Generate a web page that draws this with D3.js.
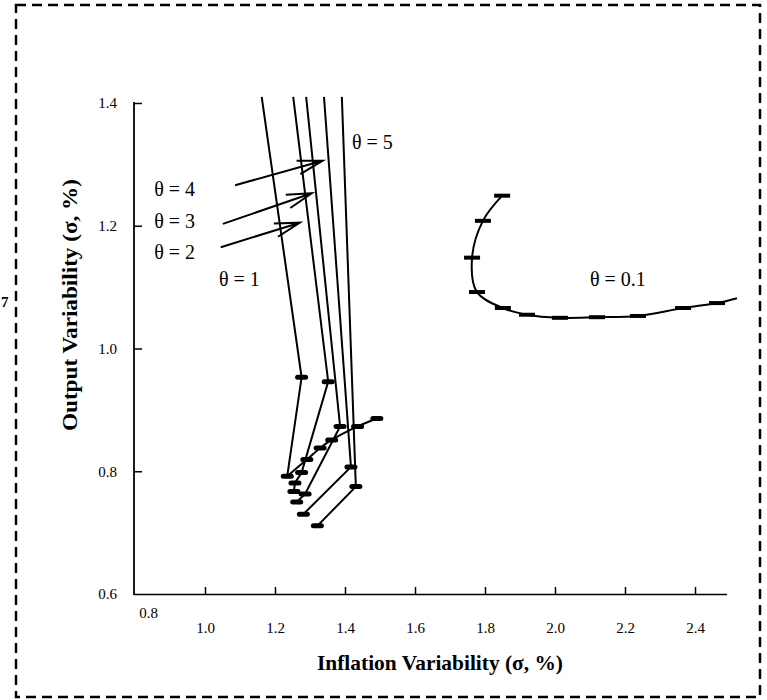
<!DOCTYPE html>
<html>
<head>
<meta charset="utf-8">
<script src="https://cdn.jsdelivr.net/npm/d3@7"></script>
<style>
  body { margin: 0; background: #fff; }
  svg text { font-family: "Liberation Serif", "DejaVu Serif", serif; fill: #000; }
</style>
</head>
<body>
<script>
// tick values
const xTicks = [0.8, 1.0, 1.2, 1.4, 1.6, 1.8, 2.0, 2.2, 2.4];
const yTicks = [0.6, 0.8, 1.0, 1.2, 1.4];

// theta = 0.1 frontier (marked points, last point is the open end)
const theta01 = [
  [1.849, 1.249], [1.794, 1.208], [1.763, 1.148], [1.777, 1.092], [1.851, 1.066],
  [1.920, 1.055], [2.014, 1.050], [2.120, 1.051], [2.237, 1.053], [2.366, 1.066],
  [2.463, 1.074], [2.520, 1.082]
];
const theta01Marked = 11;

// theta = 1..5 lines, first point is off the top
const theta1 = [[1.162, 1.41], [1.276, 0.953], [1.235, 0.792]];
const theta2 = [[1.252, 1.41], [1.352, 0.946], [1.276, 0.798], [1.257, 0.781], [1.254, 0.767]];
const theta3 = [[1.289, 1.41], [1.386, 0.873], [1.286, 0.763], [1.262, 0.750]];
const theta4 = [[1.340, 1.41], [1.417, 0.807], [1.281, 0.730]];
const theta5 = [[1.391, 1.41], [1.431, 0.775], [1.321, 0.711]];

// curve linking the low ends
const linkCurve = [[1.235, 0.792], [1.291, 0.819], [1.329, 0.838], [1.362, 0.851], [1.436, 0.873], [1.491, 0.886]];

// arrows for theta labels: [from, to]
const arrows = [
  [[1.086, 1.266], [1.336, 1.306]],
  [[1.051, 1.203], [1.305, 1.253]],
  [[1.045, 1.165], [1.271, 1.205]]
];

const labels = [
  { text: "θ = 5", x: 1.42, y: 1.337 },
  { text: "θ = 4", x: 0.855, y: 1.26 },
  { text: "θ = 3", x: 0.855, y: 1.207 },
  { text: "θ = 2", x: 0.855, y: 1.158 },
  { text: "θ = 1", x: 1.04, y: 1.114 },
  { text: "θ = 0.1", x: 2.1, y: 1.114 }
];

const w = 767, h = 700;

const svg = d3.select("body").append("svg")
  .attr("width", w)
  .attr("height", h);

// dashed frame
svg.append("rect")
  .attr("x", 16).attr("y", 5)
  .attr("width", 744).attr("height", 692)
  .attr("fill", "none")
  .attr("stroke", "#000")
  .attr("stroke-width", 2.5)
  .attr("stroke-dasharray", "10,6");

// stray glyph at left edge
svg.append("text")
  .attr("x", 1).attr("y", 307)
  .style("font-size", "15px")
  .style("font-weight", "bold")
  .text("7");

const xScale = d3.scaleLinear().domain([0.8, 2.5]).range([135, 730]);
const yScale = d3.scaleLinear().domain([0.6, 1.4]).range([594, 103]);

// x axis
const xAxisG = svg.append("g")
  .attr("transform", "translate(0,594)")
  .call(d3.axisBottom(xScale).tickValues(xTicks).tickSize(-7).tickFormat(d3.format(".1f")))
  .attr("font-size", null)
  .attr("font-family", null);
xAxisG.select(".domain").remove();
xAxisG.selectAll(".tick line").attr("stroke", "#000").attr("stroke-width", 1.5);
xAxisG.selectAll(".tick text")
  .attr("y", 34)
  .attr("dy", "0.35em")
  .style("font-size", "15px");
xAxisG.selectAll(".tick").filter(d => d === 0.8).select("line").remove();
xAxisG.selectAll(".tick").filter(d => d === 0.8).select("text")
  .attr("x", 13).attr("y", 19);

svg.append("line")
  .attr("x1", 134).attr("x2", 727)
  .attr("y1", 594.5).attr("y2", 594.5)
  .attr("stroke", "#000").attr("stroke-width", 1.6);

// y axis
const yAxisG = svg.append("g")
  .attr("transform", "translate(134,0)")
  .call(d3.axisLeft(yScale).tickValues(yTicks).tickSize(-8).tickPadding(17).tickFormat(d3.format(".1f")))
  .attr("font-size", null)
  .attr("font-family", null);
yAxisG.select(".domain").remove();
yAxisG.selectAll(".tick line").attr("stroke", "#000").attr("stroke-width", 1.5);
yAxisG.selectAll(".tick").filter(d => d === 0.6).select("line").remove();
yAxisG.selectAll(".tick text").style("font-size", "15px");

svg.append("line")
  .attr("x1", 134).attr("x2", 134)
  .attr("y1", 102).attr("y2", 595)
  .attr("stroke", "#000").attr("stroke-width", 1.8);

// axis titles
svg.append("text")
  .attr("x", 440).attr("y", 670)
  .attr("text-anchor", "middle")
  .attr("textLength", 246)
  .attr("lengthAdjust", "spacingAndGlyphs")
  .style("font-size", "21px")
  .style("font-weight", "bold")
  .text("Inflation Variability (σ, %)");

svg.append("text")
  .attr("transform", "translate(77,305) rotate(-90)")
  .attr("text-anchor", "middle")
  .attr("textLength", 252)
  .attr("lengthAdjust", "spacingAndGlyphs")
  .style("font-size", "21px")
  .style("font-weight", "bold")
  .text("Output Variability (σ, %)");

// lines
const straight = d3.line().x(d => xScale(d[0])).y(d => yScale(d[1]));
const smooth = d3.line().x(d => xScale(d[0])).y(d => yScale(d[1])).curve(d3.curveCatmullRom);

svg.append("path")
  .attr("d", smooth(theta01))
  .attr("fill", "none").attr("stroke", "#000").attr("stroke-width", 2);

[theta1, theta2, theta3, theta4, theta5].forEach(s => {
  svg.append("path")
    .attr("d", straight(s))
    .attr("fill", "none").attr("stroke", "#000").attr("stroke-width", 2);
});

svg.append("path")
  .attr("d", smooth(linkCurve))
  .attr("fill", "none").attr("stroke", "#000").attr("stroke-width", 2);

// markers
svg.selectAll(".m01")
  .data(theta01.slice(0, theta01Marked))
  .enter().append("rect")
  .attr("class", "m01")
  .attr("x", d => xScale(d[0]) - 8)
  .attr("y", d => yScale(d[1]) - 2)
  .attr("width", 16).attr("height", 4)
  .attr("fill", "#000");

const clusterPts = [theta1, theta2, theta3, theta4, theta5]
  .flatMap(s => s.slice(1))
  .concat(linkCurve.slice(1));

svg.selectAll(".mc")
  .data(clusterPts)
  .enter().append("rect")
  .attr("class", "mc")
  .attr("x", d => xScale(d[0]) - 6.5)
  .attr("y", d => yScale(d[1]) - 2.5)
  .attr("width", 13).attr("height", 5)
  .attr("rx", 2.5)
  .attr("fill", "#000");

// arrows
arrows.forEach(a => {
  const x1 = xScale(a[0][0]), y1 = yScale(a[0][1]);
  const x2 = xScale(a[1][0]), y2 = yScale(a[1][1]);
  const ang = Math.atan2(y2 - y1, x2 - x1);
  const len = 26, spread = 0.27;
  const hx1 = x2 - len * Math.cos(ang - spread), hy1 = y2 - len * Math.sin(ang - spread);
  const hx2 = x2 - len * Math.cos(ang + spread), hy2 = y2 - len * Math.sin(ang + spread);
  svg.append("path")
    .attr("d", `M${x1},${y1}L${x2},${y2}M${hx1},${hy1}L${x2},${y2}L${hx2},${hy2}`)
    .attr("fill", "none").attr("stroke", "#000").attr("stroke-width", 2);
});

// theta labels
svg.selectAll(".lab")
  .data(labels)
  .enter().append("text")
  .attr("class", "lab")
  .attr("x", d => xScale(d.x))
  .attr("y", d => yScale(d.y))
  .attr("dy", "0.35em")
  .style("font-size", "20px")
  .text(d => d.text);
</script>
</body>
</html>
